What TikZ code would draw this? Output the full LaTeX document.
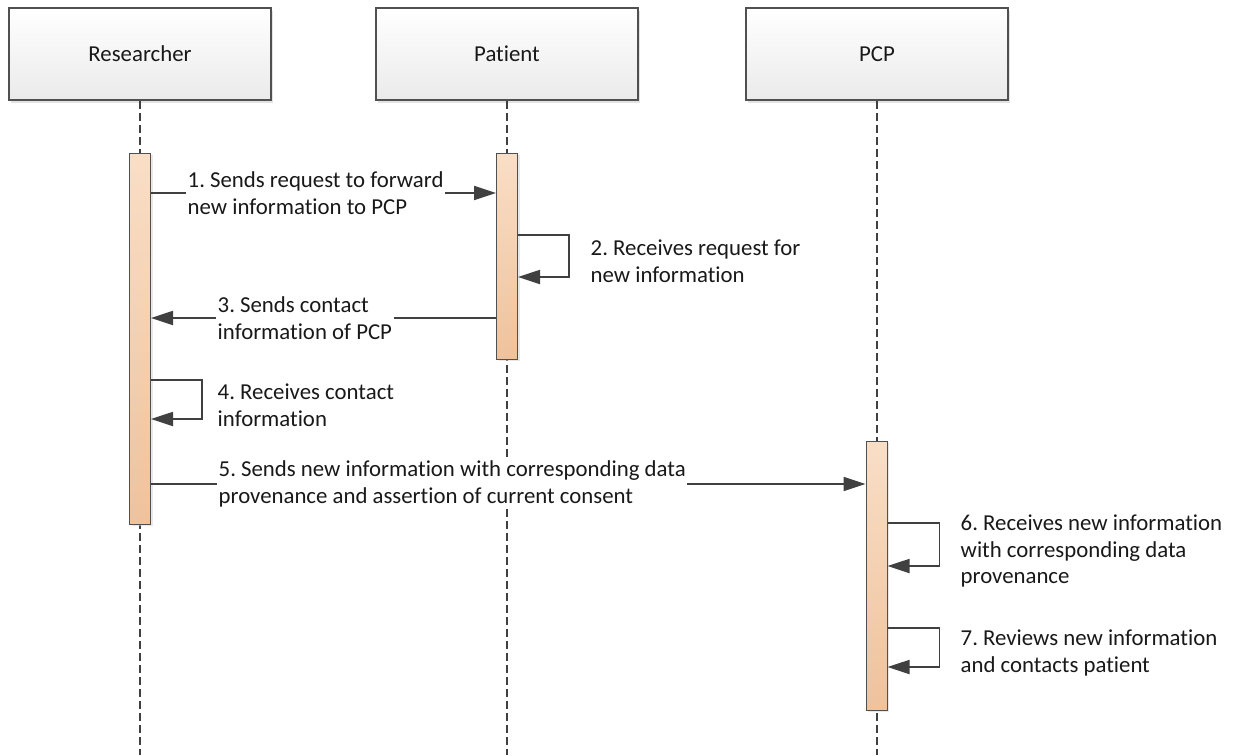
\documentclass[tikz,border=0pt]{standalone}
\usepackage{fontspec}
\setmainfont{Carlito}[Ligatures=NoCommon]
\frenchspacing
\usetikzlibrary{arrows.meta,shadows}
\definecolor{linegray}{HTML}{404040}
\definecolor{boxgray}{HTML}{505050}
\definecolor{bartop}{HTML}{F9DEC6}
\definecolor{barbot}{HTML}{EFC29C}

\begin{document}
\begin{tikzpicture}[x=1pt, y=-1pt,
    every node/.style={font=\fontsize{22.8}{26.5}\selectfont, text=black!90},
    actor/.style={draw=boxgray, line width=1.2pt, top color=white, bottom color=black!8,
        minimum width=262pt, minimum height=92pt,
        drop shadow={shadow xshift=1.5pt, shadow yshift=-2.5pt, fill=black!22}},
    bar/.style={draw=boxgray, line width=1pt, top color=bartop, bottom color=barbot,
        minimum width=21pt, inner sep=0pt,
        drop shadow={shadow xshift=2pt, shadow yshift=-1.5pt, fill=black!18}},
    lifeline/.style={draw=linegray, line width=1.2pt, dash pattern=on 8pt off 4pt},
    msg/.style={draw=linegray, line width=1.8pt, -{Triangle[length=22pt,width=14pt]}},
    lbl/.style={fill=white, inner xsep=1.5pt, inner ysep=0pt, align=left, anchor=west}]
    \useasboundingbox (0,0) rectangle (1233,755);
    \node[actor] (res) at (140,54) {Researcher};
    \node[actor] (pat) at (507,54) {Patient};
    \node[actor] (pcp) at (877,54) {PCP};
    \coordinate (resend) at (140,755);
    \coordinate (patend) at (507,755);
    \coordinate (pcpend) at (877,755);
    \draw[lifeline] (res.south) -- (resend);
    \draw[lifeline] (pat.south) -- (patend);
    \draw[lifeline] (pcp.south) -- (pcpend);
    % activation bars
    \node[bar, minimum height=371pt] (resbar) at (140,338.5) {};
    \node[bar, minimum height=206pt] (patbar) at (507,256) {};
    \node[bar, minimum height=269pt] (pcpbar) at (876.5,575.5) {};
    \draw[msg] (resbar.east |- 0,193) -- (patbar.west |- 0,193);
    \draw[msg] (patbar.east |- 0,235) -- ++(51,0) |- (patbar.east |- 0,277);
    \draw[msg] (patbar.west |- 0,318) -- (resbar.east |- 0,318);
    \draw[msg] (resbar.east |- 0,380) -- ++(51,0) |- (resbar.east |- 0,419);
    \draw[msg] (resbar.east |- 0,484) -- (pcpbar.west |- 0,484);
    \draw[msg] (pcpbar.east |- 0,523) -- ++(52,0) |- (pcpbar.east |- 0,566);
    \draw[msg] (pcpbar.east |- 0,628) -- ++(52,0) |- (pcpbar.east |- 0,667);
    \node[lbl] (m1) at (186,193) {1. Sends request to forward\\new information to PCP};
    \node[lbl] (m2) at (589,261) {2. Receives request for\\new information};
    \node[lbl] (m3) at (216,318) {3. Sends contact\\information of PCP};
    \node[lbl] (m4) at (216,405) {4. Receives contact\\information};
    \node[lbl] (m5) at (217,484) {5. Sends new information with corresponding data\\provenance and assertion of current consent};
    \node[lbl] (m6) at (959,551) {6. Receives new information\\with corresponding data\\provenance};
    \node[lbl] (m7) at (959,653) {7. Reviews new information\\and contacts patient};
\end{tikzpicture}
\end{document}
